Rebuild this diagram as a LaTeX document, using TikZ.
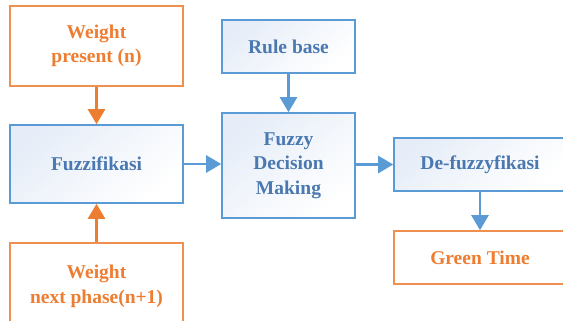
\documentclass[tikz,border=0pt]{standalone}
\usepackage{fontspec}
\setmainfont{Liberation Serif}
\usetikzlibrary{arrows.meta}
\definecolor{org}{HTML}{ED7D31}
\definecolor{blu}{HTML}{5B9BD5}
\definecolor{blutxt}{HTML}{4A78B0}
\definecolor{bluefill}{HTML}{E6EDF8}
\tikzset{
  box/.style={draw, line width=1.6pt, rectangle, inner sep=0pt, align=center,
    font=\bfseries\fontsize{19.5}{24.5}\selectfont},
  obox/.style={box, draw=org!85, fill=white, text=org},
  bbox/.style={box, draw=blu, text=blutxt, top color=bluefill, bottom color=white, shading angle=40},
  oarr/.style={draw=org, line width=2.6pt, -{Triangle[length=15pt,width=17pt]}},
  barr/.style={draw=blu, line width=2.6pt, -{Triangle[length=15pt,width=17pt]}},
}
\begin{document}
\begin{tikzpicture}[x=1pt,y=-1pt]
\useasboundingbox (0,0) rectangle (563,321);
\node[obox, minimum width=173pt, minimum height=80pt] (wp) at (96.5,46) {Weight\\present (n)};
\node[bbox, minimum width=173pt, minimum height=78pt] (fz) at (96.5,164) {Fuzzifikasi};
\node[obox, minimum width=173pt, minimum height=87pt] (wn) at (96.5,286.5) {Weight\\next phase(n+1)};
\node[bbox, minimum width=133pt, minimum height=53pt] (rb) at (288.5,46.5) {Rule base};
\node[bbox, minimum width=133pt, minimum height=105pt] (fdm) at (288.5,165.5) {Fuzzy\\Decision\\Making};
\node[bbox, minimum width=172pt, minimum height=53pt] (df) at (480,164.5) {De-fuzzyfikasi};
\node[obox, minimum width=172pt, minimum height=53pt] (gt) at (480,257.5) {Green Time};
\draw[oarr] (wp.south) -- (fz.north);
\draw[oarr] (wn.north) -- (fz.south);
\draw[barr] (rb.south) -- (fdm.north);
\draw[barr] (fz.east) -- (fz.east -| fdm.west);
\draw[barr] (fdm.east |- df.west) -- (df.west);
\draw[barr] (df.south) -- (gt.north);
\end{tikzpicture}
\end{document}
